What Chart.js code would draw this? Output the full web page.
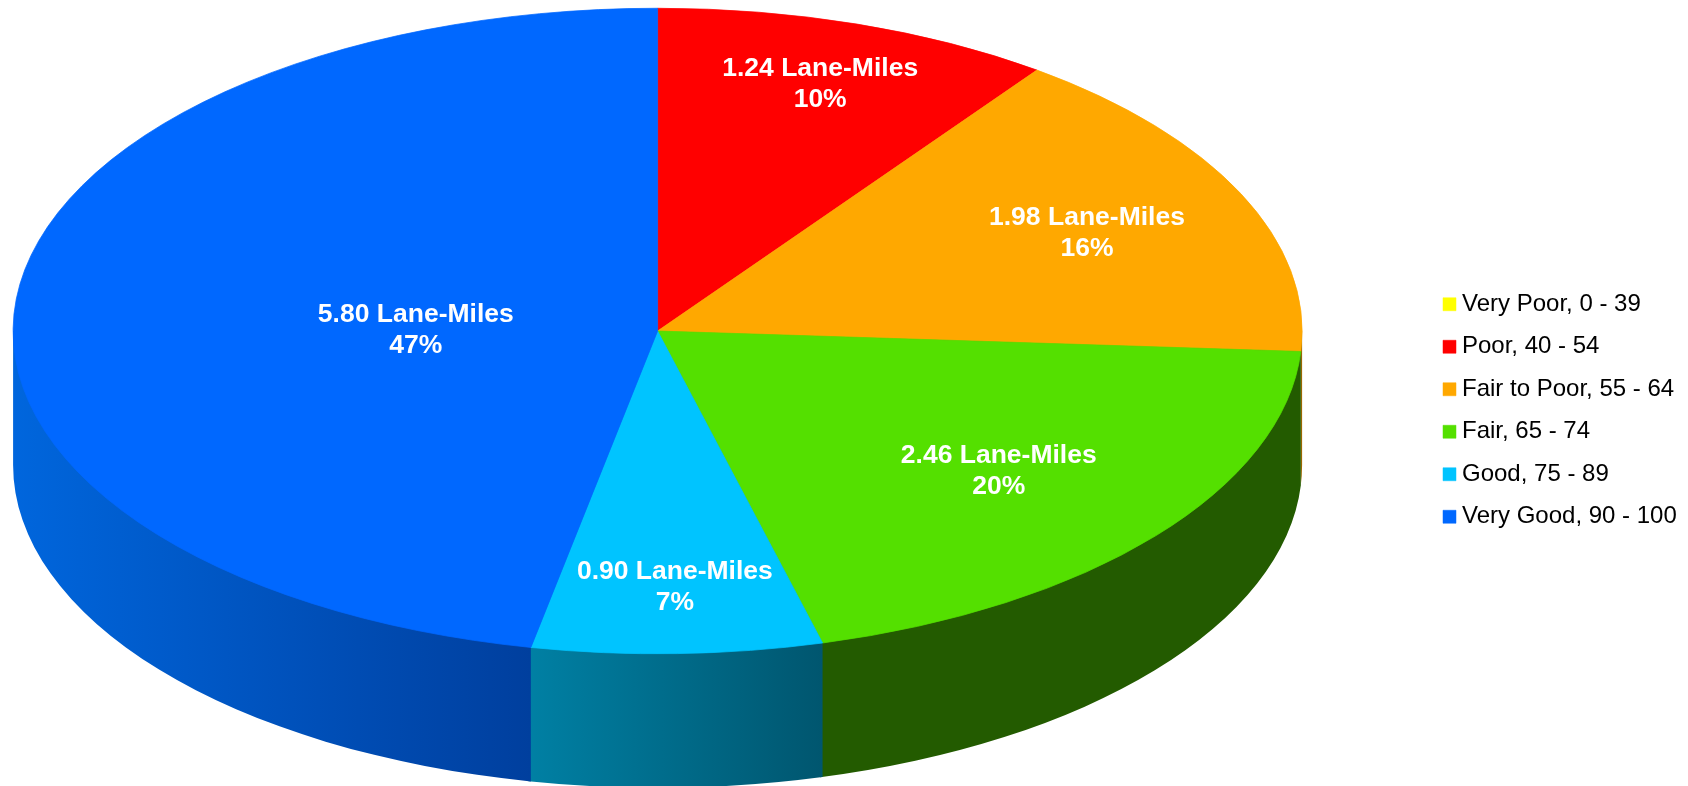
<!DOCTYPE html>
<html>
<head>
<meta charset="utf-8">
<title>Lane-Miles by condition</title>
<script src="https://cdn.jsdelivr.net/npm/chart.js@4/dist/chart.umd.min.js"></script>
<style>
  html, body { margin: 0; padding: 0; background: #fff; overflow: hidden; }
  canvas { display: block; }
</style>
</head>
<body>
<canvas id="myChart" width="1688" height="786"></canvas>
<script>
const categories = ['Very Poor, 0 - 39', 'Poor, 40 - 54', 'Fair to Poor, 55 - 64', 'Fair, 65 - 74', 'Good, 75 - 89', 'Very Good, 90 - 100'];
const laneMiles = [0, 1.24, 1.98, 2.46, 0.90, 5.80];
const sliceColors = ['#ffff00', '#ff0000', '#ffa800', '#54e000', '#00c4ff', '#0068ff'];
// side wall of each slice, left and right end of the gradient
const wallLeft = ['#999900', '#990000', '#9a6800', '#235b00', '#0080a4', '#0066dd'];
const wallRight = ['#999900', '#990000', '#9a6800', '#235b00', '#00566f', '#003f9e'];
// how far out along its slice each label sits (0 centre, 1 rim)
const labelReachX = [0, 0.815, 0.736, 0.685, 0.88, 0.377];
const labelReachY = [0, 0.808, 0.724, 0.678, 0.788, 0.086];

const squash = 645 / 323;   // pie is drawn round, then stretched sideways
const wallDepth = 134;

// clockwise from 3 o'clock, the wall shows only between 0 and PI
function drawWalls(chart) {
    const ctx = chart.ctx;
    const arcs = chart.getDatasetMeta(0).data;
    arcs.forEach((arc, i) => {
        const a1 = Math.max(arc.startAngle, 0);
        const a2 = Math.min(arc.endAngle + 0.004, Math.PI);
        if (a2 <= a1) return;
        const r = arc.outerRadius;
        const g = ctx.createLinearGradient(arc.x + r * Math.cos(a2), 0, arc.x + r * Math.cos(a1), 0);
        g.addColorStop(0, wallLeft[i]);
        g.addColorStop(1, wallRight[i]);
        // goes up to the pie centre so no white shows along the rim, the top covers it
        ctx.beginPath();
        ctx.moveTo(arc.x, arc.y);
        ctx.lineTo(arc.x + r * Math.cos(a1), arc.y + r * Math.sin(a1));
        ctx.arc(arc.x, arc.y + wallDepth, r, a1, a2);
        ctx.lineTo(arc.x + r * Math.cos(a2), arc.y + r * Math.sin(a2));
        ctx.closePath();
        ctx.fillStyle = g;
        ctx.fill();
    });
}

const pie3d = {
    id: 'pie3d',
    afterLayout(chart) {
        // legend sits lower than the pie centre, move it where the original has it
        const l = chart.legend;
        const dy = 410.5 - (l.top + l.bottom) / 2;
        const dx = 1449 - (l.left + l.options.labels.padding);
        l.top += dy; l.bottom += dy;
        l.left += dx; l.right += dx;
    },
    beforeDatasetsDraw(chart) {
        const ctx = chart.ctx;
        const c = chart.getDatasetMeta(0).data[0];
        ctx.save();
        ctx.translate(c.x, 0);
        ctx.scale(squash, 1);
        ctx.translate(-c.x, 0);
        drawWalls(chart);
    },
    afterDatasetsDraw(chart) {
        const ctx = chart.ctx;
        ctx.restore();
        const total = laneMiles.reduce((a, b) => a + b, 0);
        ctx.save();
        ctx.font = 'bold 26.5px "Liberation Sans", Arial, sans-serif';
        ctx.fillStyle = '#fff';
        ctx.textAlign = 'center';
        ctx.textBaseline = 'middle';
        chart.getDatasetMeta(0).data.forEach((arc, i) => {
            if (!laneMiles[i]) return;
            const mid = (arc.startAngle + arc.endAngle) / 2;
            const x = arc.x + squash * arc.outerRadius * labelReachX[i] * Math.cos(mid);
            const y = arc.y + arc.outerRadius * labelReachY[i] * Math.sin(mid);
            ctx.fillText(laneMiles[i].toFixed(2) + ' Lane-Miles', x, y - 14);
            ctx.fillText(Math.round(laneMiles[i] / total * 100) + '%', x, y + 17);
        });
        ctx.restore();
    }
};

new Chart(document.getElementById('myChart'), {
    type: 'pie',
    data: {
        labels: categories,
        datasets: [{
            data: laneMiles,
            backgroundColor: sliceColors,
            borderColor: sliceColors,   // hides the hairline between slices
            borderWidth: 0.5,
            clip: false
        }]
    },
    options: {
        responsive: false,
        animation: false,
        layout: { padding: { left: 12.5, top: 8, right: 129, bottom: 132 } },
        plugins: {
            tooltip: { enabled: false },
            legend: {
                position: 'right',
                onClick: null,
                labels: {
                    usePointStyle: true,
                    pointStyle: 'rect',
                    boxWidth: 1,
                    boxHeight: 13,
                    padding: 18.5,
                    color: '#000',
                    font: { family: '"Liberation Sans", Arial, sans-serif', size: 24 }
                }
            }
        }
    },
    plugins: [pie3d]
});
</script>
</body>
</html>
